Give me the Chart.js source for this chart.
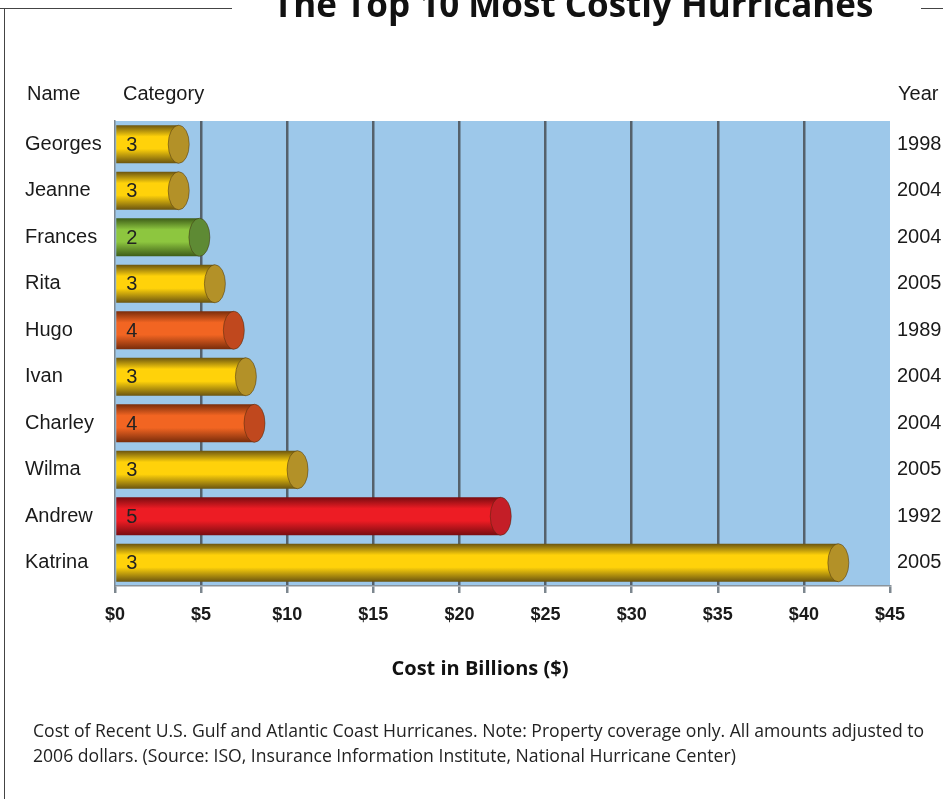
<!DOCTYPE html>
<html>
<head>
<meta charset="utf-8">
<script src="https://cdn.jsdelivr.net/npm/chart.js"></script>
<style>
  body { margin: 0; background: #fff; }
  #wrap { position: relative; width: 943px; height: 799px; overflow: hidden; background: #fff; }
  #chart { position: absolute; left: 0; top: 0; }
  .t { position: absolute; white-space: nowrap; color: #222; }
  .line { position: absolute; background: #444; }
  .hdr { font-family: 'Liberation Sans', Arial, sans-serif; font-size: 20px; line-height: 24px; top: 81px; color: #1a1a1a; }
</style>
</head>
<body>
<div id="wrap">
  <canvas id="chart" width="943" height="799"></canvas>
  <div class="line" style="left:0;top:8px;width:232px;height:1px"></div>
  <div class="line" style="left:921px;top:8px;width:22px;height:1px"></div>
  <div class="line" style="left:4px;top:8px;width:1px;height:791px"></div>
  <div class="t" style="left:273px;top:-14px;font:bold 35px 'Open Sans',sans-serif;line-height:35px;color:#111">The Top 10 Most Costly Hurricanes</div>
  <div class="t hdr" style="left:27px">Name</div>
  <div class="t hdr" style="left:123px">Category</div>
  <div class="t hdr" style="left:898px">Year</div>
  <div class="t" style="left:330px;width:300px;text-align:center;top:655px;font:bold 20px 'Open Sans',sans-serif;line-height:26px;color:#111">Cost in Billions ($)</div>
  <div class="t" style="left:33px;top:718px;font:17.6px 'Open Sans',sans-serif;line-height:25px">Cost of Recent U.S. Gulf and Atlantic Coast Hurricanes. Note: Property coverage only. All amounts adjusted to<br>2006 dollars. (Source: ISO, Insurance Information Institute, National Hurricane Center)</div>
</div>
<script>
// hurricanes, top to bottom
const names = ['Georges', 'Jeanne', 'Frances', 'Rita', 'Hugo', 'Ivan', 'Charley', 'Wilma', 'Andrew', 'Katrina'];
const categories = [3, 3, 2, 3, 4, 3, 4, 3, 5, 3];
const years = ['1998', '2004', '2004', '2005', '1989', '2004', '2004', '2005', '1992', '2005'];
const costs = [3.7, 3.7, 4.9, 5.8, 6.9, 7.6, 8.1, 10.6, 22.4, 42.0];
const xTicks = [0, 5, 10, 15, 20, 25, 30, 35, 40, 45];

const barPct = 0.82;

// colours per storm category: [light, dark, cap]
const catColors = {
    2: ['#8dc63f', '#3d5c18', '#5e8a34'],
    3: ['#ffd20a', '#6a5410', '#b39128'],
    4: ['#f26522', '#782c0b', '#c0481e'],
    5: ['#ed1c24', '#780c10', '#c41e27']
};

// shaded cylinder body, built from the category scale position
function bodyGradient(context) {
    const chart = context.chart;
    const c = catColors[categories[context.dataIndex]];
    const ys = chart.scales.y;
    if (!ys || !ys.height) return c[0];
    const mid = ys.getPixelForValue(context.dataIndex);
    const half = ys.height / names.length * barPct / 2;
    const g = chart.ctx.createLinearGradient(0, mid - half, 0, mid + half);
    g.addColorStop(0, c[1]);
    g.addColorStop(0.3, c[0]);
    g.addColorStop(0.62, c[0]);
    g.addColorStop(1, c[1]);
    return g;
}

const plotBg = {
    id: 'plotBg',
    beforeDraw(chart) {
        const a = chart.chartArea;
        const ctx = chart.ctx;
        ctx.save();
        ctx.fillStyle = '#9dc8ea';
        ctx.fillRect(a.left, a.top, a.right - a.left, a.bottom - a.top);
        ctx.restore();
    }
};

// end caps of the cylinders and the category numbers
const cylinders = {
    id: 'cylinders',
    afterDatasetsDraw(chart) {
        const ctx = chart.ctx;
        const meta = chart.getDatasetMeta(0);
        meta.data.forEach((bar, i) => {
            const c = catColors[categories[i]];
            const ry = bar.height / 2;
            ctx.save();
            ctx.beginPath();
            ctx.ellipse(bar.x, bar.y, 10.5, ry, 0, 0, Math.PI * 2);
            ctx.fillStyle = c[2];
            ctx.fill();
            ctx.lineWidth = 1;
            ctx.strokeStyle = 'rgba(60,40,10,0.45)';
            ctx.stroke();
            ctx.fillStyle = '#222';
            ctx.font = '20px "Liberation Sans", Arial, sans-serif';
            ctx.textBaseline = 'middle';
            ctx.textAlign = 'left';
            ctx.fillText(String(categories[i]), bar.base + 10, bar.y + 1);
            ctx.restore();
        });
    }
};

new Chart(document.getElementById('chart'), {
    type: 'bar',
    data: {
        labels: names,
        datasets: [{
            data: costs,
            yAxisID: 'y',
            backgroundColor: bodyGradient,
            borderWidth: 0,
            barPercentage: barPct,
            categoryPercentage: 1
        }]
    },
    options: {
        indexAxis: 'y',
        responsive: false,
        animation: false,
        layout: { padding: { left: 25, top: 121, right: 0, bottom: 0 } },
        plugins: { legend: { display: false }, tooltip: { enabled: false } },
        scales: {
            x: {
                min: 0,
                max: 45,
                afterBuildTicks: s => { s.ticks = xTicks.map(v => ({ value: v })); },
                afterFit: s => { s.height = 213; },
                grid: {
                    color: ctx => (ctx.tick && (ctx.tick.value === 45 || ctx.tick.value === 0)) ? 'rgba(0,0,0,0)' : '#55616b',
                    lineWidth: 2.5,
                    tickColor: '#7d878f',
                    tickLength: 7
                },
                border: { display: true, color: '#8a949c', width: 1.5 },
                ticks: {
                    color: '#1a1a1a',
                    padding: 11,
                    font: { family: 'Liberation Sans', size: 18, weight: 'bold' },
                    callback: v => '$' + v
                }
            },
            y: {
                position: 'left',
                afterFit: s => { s.width = 90; },
                grid: { display: false },
                border: { display: true, color: '#7d878f', width: 1.5 },
                ticks: {
                    crossAlign: 'far',
                    color: '#1a1a1a',
                    font: { family: 'Liberation Sans', size: 20 }
                }
            },
            y2: {
                type: 'category',
                labels: years,
                position: 'right',
                afterFit: s => { s.width = 53; },
                grid: { display: false, drawTicks: false },
                border: { display: false },
                ticks: {
                    padding: 7,
                    color: '#1a1a1a',
                    font: { family: 'Liberation Sans', size: 20 }
                }
            }
        }
    },
    plugins: [plotBg, cylinders]
});
</script>
</body>
</html>
